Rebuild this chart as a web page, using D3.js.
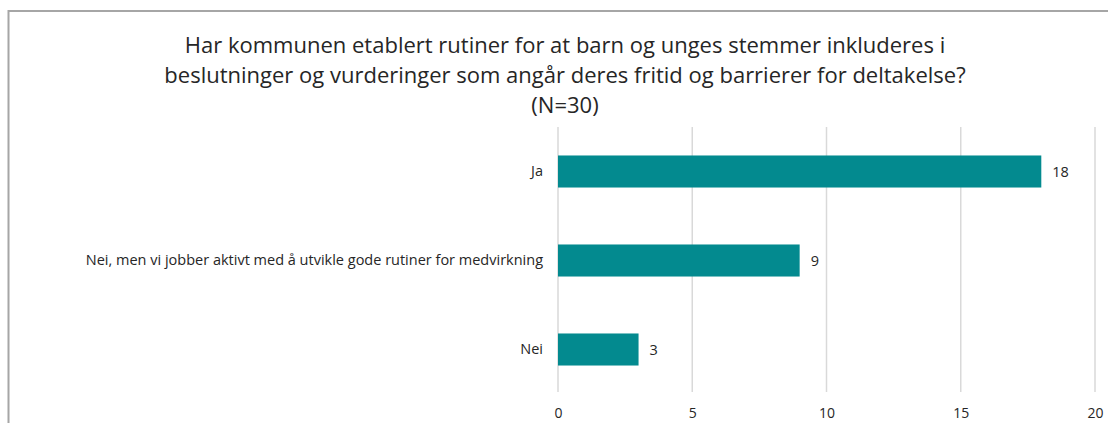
<!DOCTYPE html>
<html>
<head>
<meta charset="utf-8">
<script src="https://cdn.jsdelivr.net/npm/d3@7"></script>
<style>
  body { margin: 0; background: #fff; }
  text { font-family: "Open Sans", "Noto Sans", sans-serif; fill: #262626; }
</style>
</head>
<body>
<script>
// data
var categories = ["Ja", "Nei, men vi jobber aktivt med å utvikle gode rutiner for medvirkning", "Nei"];
var values = [18, 9, 3];
var tickValues = [0, 5, 10, 15, 20];
var titleLines = [
  "Har kommunen etablert rutiner for at barn og unges stemmer inkluderes i",
  "beslutninger og vurderinger som angår deres fritid og barrierer for deltakelse?",
  "(N=30)"
];

var w = 1108, h = 423;

var svg = d3.select("body").append("svg")
  .attr("width", w)
  .attr("height", h);

// chart frame (runs off the right and bottom of the picture)
svg.append("rect")
  .attr("x", 8.5)
  .attr("y", 11)
  .attr("width", 1110)
  .attr("height", 430)
  .attr("fill", "#fff")
  .attr("stroke", "#a6a6a6")
  .attr("stroke-width", 2);

// title
svg.append("text")
  .attr("text-anchor", "middle")
  .attr("font-size", 22)
  .selectAll("tspan")
  .data(titleLines)
  .enter()
  .append("tspan")
  .attr("x", 565)
  .attr("y", function (d, i) { return 53 + i * 30; })
  .text(function (d) { return d; });

// scales
var x = d3.scaleLinear()
  .domain([0, 20])
  .range([558, 1095]);

var y = d3.scaleBand()
  .domain(categories)
  .range([127, 394])
  .paddingInner(0.64)
  .paddingOuter(0.32);

// gridlines
svg.append("g")
  .selectAll("line")
  .data(tickValues)
  .enter()
  .append("line")
  .attr("x1", function (d) { return x(d); })
  .attr("x2", function (d) { return x(d); })
  .attr("y1", 127)
  .attr("y2", 392)
  .attr("stroke", "#d9d9d9")
  .attr("stroke-width", 1.5);

// x axis tick labels
var xAxis = d3.axisBottom(x).tickValues(tickValues).tickSize(0).tickPadding(0);
var gx = svg.append("g")
  .attr("transform", "translate(0, 408)")
  .call(xAxis);
gx.select(".domain").remove();
gx.selectAll("text")
  .attr("font-size", 14)
  .attr("font-family", "Open Sans, sans-serif")
  .attr("fill", "#595959");

// category labels
var yAxis = d3.axisLeft(y).tickSize(0).tickPadding(15);
var gy = svg.append("g")
  .attr("transform", "translate(558, 0)")
  .call(yAxis);
gy.select(".domain").remove();
gy.selectAll("text")
  .attr("font-size", 14.5)
  .attr("font-family", "Open Sans, sans-serif")
  .attr("fill", "#404040");

// bars
svg.selectAll(".bar")
  .data(values)
  .enter()
  .append("rect")
  .attr("class", "bar")
  .attr("x", x(0))
  .attr("y", function (d, i) { return y(categories[i]); })
  .attr("width", function (d) { return x(d) - x(0); })
  .attr("height", y.bandwidth())
  .attr("fill", "#038a8f");

// value labels
svg.selectAll(".val")
  .data(values)
  .enter()
  .append("text")
  .attr("class", "val")
  .attr("x", function (d) { return x(d) + 11; })
  .attr("y", function (d, i) { return y(categories[i]) + y.bandwidth() / 2; })
  .attr("dy", "0.35em")
  .attr("font-size", 14.5)
  .attr("fill", "#404040")
  .text(function (d) { return d; });
</script>
</body>
</html>
